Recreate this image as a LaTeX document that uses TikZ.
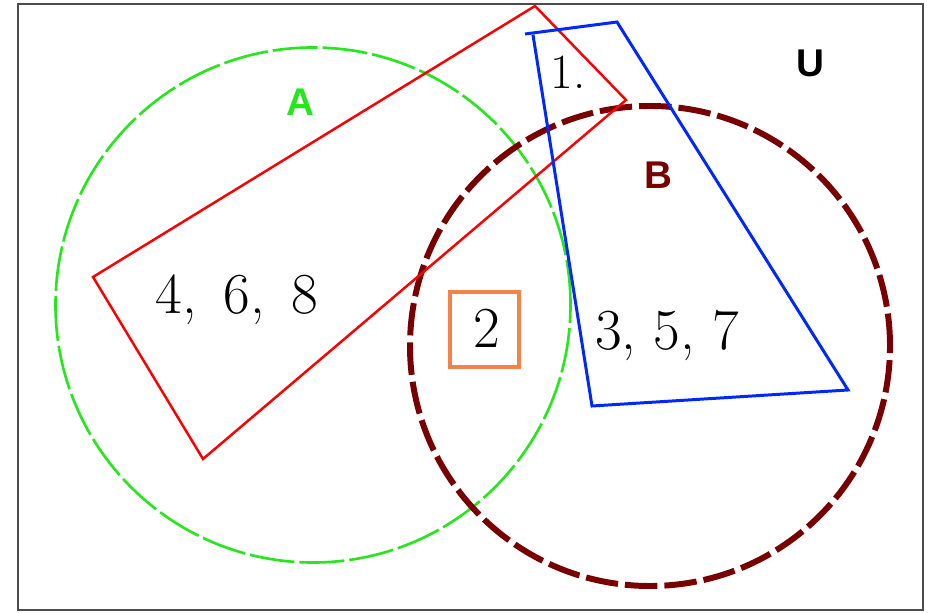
\documentclass[tikz,border=0pt]{standalone}
\usepackage{fontspec}
\setsansfont{Liberation Sans}
\usetikzlibrary{positioning}

\definecolor{setA}{RGB}{40,230,30}
\definecolor{setB}{RGB}{120,0,0}
\definecolor{oddbox}{RGB}{0,40,250}
\definecolor{evenbox}{RGB}{250,0,0}
\definecolor{primebox}{RGB}{245,130,70}

\begin{document}
\begin{tikzpicture}[
  x=0.2mm, y=-0.2mm,
  setlabel/.style={font=\sffamily\bfseries\fontsize{22}{24}\selectfont},
  elems/.style={font=\fontsize{33}{36}\selectfont},
]
\useasboundingbox (0,0) rectangle (942,613);
\fill[white] (0,0) rectangle (942,613);

% Universe
\draw[black!70, line width=1.6pt] (18,4) rectangle (923,610);
\node[setlabel] (labU) at (810,63) {U};

% Circles A and B
\draw[setA, line width=1.5pt, dash pattern=on 9mm off 1mm] (313,305) circle (51.5mm);
\draw[setB, line width=3.4pt, dash pattern=on 6.5mm off 1.4mm] (650,346) circle (48mm);
\node[setlabel, text=setA] (labA) at (300,102) {A};
\node[setlabel, text=setB] (labB) at (658,175) {B};

% Red and blue boxes
\draw[evenbox, line width=1.4pt] (93,277) -- (535,6) -- (626,100) -- (203,459) -- cycle;
\draw[oddbox, line width=1.7pt] (525,34) -- (617,22) -- (848,390) -- (592,406) -- (533,35);

% Orange box round 2
\draw[primebox, line width=2.8pt] (450,292) rectangle (519,367);

% Elements
\node[elems] (evens) at (237,300) {4,\ \,6,\ \,8};
\node[elems] (two) at (487,328) {2};
\node[elems] (odds) at (667,335) {3,\ 5,\ 7};
\node[elems, font=\fontsize{28}{30}\selectfont] (one) at (568,72) {1.};
\end{tikzpicture}
\end{document}
